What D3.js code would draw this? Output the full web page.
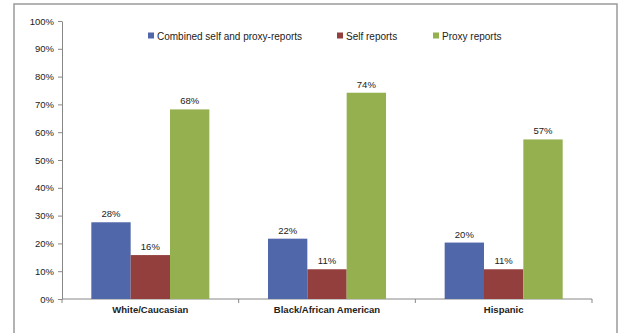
<!DOCTYPE html>
<html>
<head>
<meta charset="utf-8">
<script src="https://cdn.jsdelivr.net/npm/d3@7"></script>
<style>
  body { margin: 0; background: #fff; }
  text { font-family: "Liberation Sans", Arial, sans-serif; fill: #222; }
</style>
</head>
<body>
<script>
const groups = ["White/Caucasian", "Black/African American", "Hispanic"];
const seriesNames = ["Combined self and proxy-reports", "Self reports", "Proxy reports"];
const combined = [0.276, 0.217, 0.203];
const selfReports = [0.158, 0.107, 0.107];
const proxyReports = [0.682, 0.742, 0.574];
const yTicks = [0, 0.1, 0.2, 0.3, 0.4, 0.5, 0.6, 0.7, 0.8, 0.9, 1.0];
const colors = ["#5067a9", "#933f3e", "#94b04f"];

const width = 621, height = 333;
const margin = {top: 21, right: 29, bottom: 34, left: 62};

const seriesValues = [combined, selfReports, proxyReports];
const rows = groups.map((g, i) => ({group: g, values: seriesValues.map(s => s[i])}));

const svg = d3.select("body").append("svg")
  .attr("width", width)
  .attr("height", height);

// outer frame (bottom edge is cut off in the picture)
svg.append("rect")
  .attr("x", 14).attr("y", 4)
  .attr("width", 603).attr("height", 340)
  .attr("fill", "none")
  .attr("stroke", "#9a9a9a")
  .attr("stroke-width", 1.5);

const x0 = d3.scaleBand()
  .domain(groups)
  .range([margin.left, width - margin.right])
  .paddingInner(0.332)
  .paddingOuter(0.166);

const x1 = d3.scaleBand()
  .domain(d3.range(seriesNames.length))
  .range([0, x0.bandwidth()]);

const y = d3.scaleLinear()
  .domain([0, 1])
  .range([height - margin.bottom, margin.top]);

// y axis
const yAxis = svg.append("g")
  .attr("transform", `translate(${margin.left},0)`)
  .call(d3.axisLeft(y).tickValues(yTicks).tickFormat(d3.format(".0%")).tickSize(4).tickPadding(4).tickSizeOuter(0));
yAxis.select(".domain").attr("stroke", "#888");
yAxis.selectAll(".tick line").attr("stroke", "#888");
yAxis.selectAll("text").attr("font-size", 9.5).attr("fill", "#222")
  .style("font-family", "'Liberation Sans', Arial, sans-serif");

// x axis with separators between categories
const xAxisY = y(0);
svg.append("line")
  .attr("x1", margin.left).attr("x2", width - margin.right)
  .attr("y1", xAxisY).attr("y2", xAxisY)
  .attr("stroke", "#888");
const step = x0.step();
d3.range(groups.length + 1).forEach(i => {
  const xx = margin.left + i * (width - margin.left - margin.right) / groups.length;
  svg.append("line")
    .attr("x1", xx).attr("x2", xx)
    .attr("y1", xAxisY).attr("y2", xAxisY + 4)
    .attr("stroke", "#888");
});

svg.append("g").selectAll("text")
  .data(groups)
  .join("text")
  .attr("x", d => x0(d) + x0.bandwidth() / 2)
  .attr("y", xAxisY + 14)
  .attr("text-anchor", "middle")
  .attr("font-size", 9.5)
  .attr("font-weight", "bold")
  .text(d => d);

// bars
const gGroups = svg.append("g").selectAll("g")
  .data(rows)
  .join("g")
  .attr("transform", d => `translate(${x0(d.group)},0)`);

gGroups.selectAll("rect")
  .data(d => d.values.map((v, i) => ({i, v})))
  .join("rect")
  .attr("x", d => x1(d.i))
  .attr("y", d => y(d.v))
  .attr("width", x1.bandwidth())
  .attr("height", d => y(0) - y(d.v))
  .attr("fill", d => colors[d.i]);

gGroups.selectAll("text.val")
  .data(d => d.values.map((v, i) => ({i, v})))
  .join("text")
  .attr("class", "val")
  .attr("x", d => x1(d.i) + x1.bandwidth() / 2)
  .attr("y", d => y(d.v) - 5)
  .attr("text-anchor", "middle")
  .attr("font-size", 9.5)
  .text(d => d3.format(".0%")(d.v));

// legend
const legendX = [148, 337, 433];
const legend = svg.append("g").selectAll("g")
  .data(seriesNames)
  .join("g")
  .attr("transform", (d, i) => `translate(${legendX[i]},36)`);
legend.append("rect")
  .attr("x", 0).attr("y", -3.5)
  .attr("width", 6).attr("height", 6)
  .attr("fill", (d, i) => colors[i]);
legend.append("text")
  .attr("x", 9).attr("y", 3.5)
  .attr("font-size", 10)
  .text(d => d);
</script>
</body>
</html>
